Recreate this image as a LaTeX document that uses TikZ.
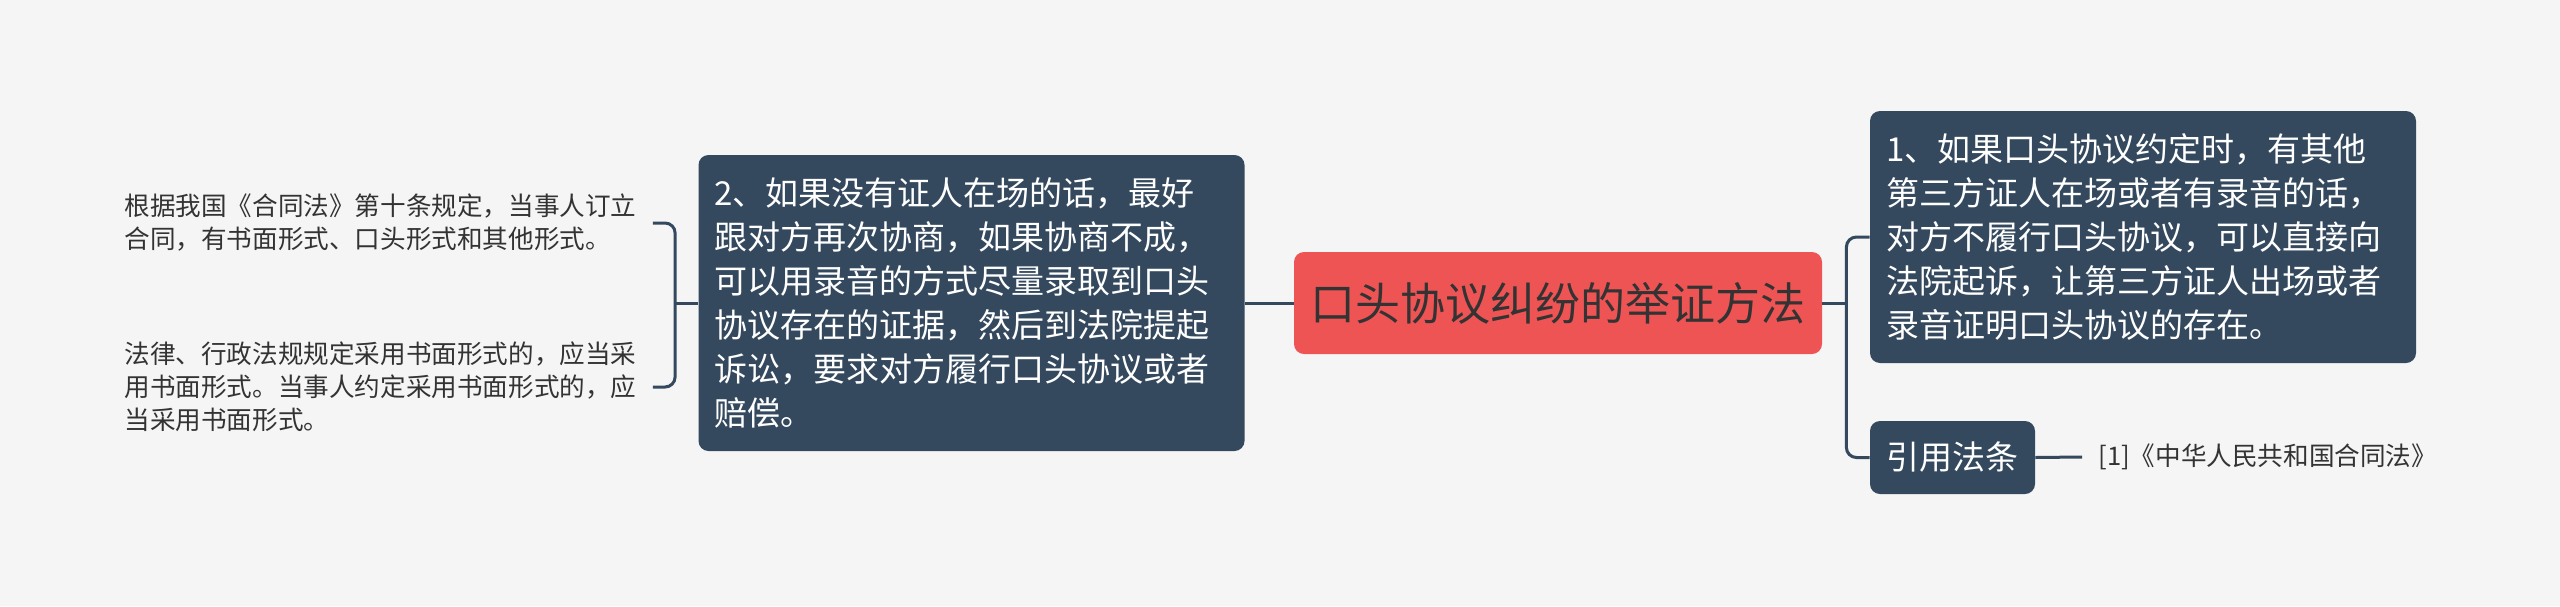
\documentclass[tikz,border=0pt]{standalone}
\usepackage{fontspec}
\setmainfont{Noto Sans CJK SC}
\definecolor{bgcol}{HTML}{F5F5F5}
\definecolor{navy}{HTML}{34495E}
\definecolor{redbox}{HTML}{EF5455}
\definecolor{ink}{HTML}{333333}
\tikzset{
	topic/.style={fill=redbox, rounded corners=5pt, text=ink, font=\fontsize{22.5pt}{28pt}\selectfont, minimum width=264pt, minimum height=51pt, inner sep=0pt},
	branch/.style={fill=navy, rounded corners=5pt, text=white, font=\fontsize{16.5pt}{22pt}\selectfont, align=left, inner xsep=8pt},
	leaf/.style={text=ink, font=\fontsize{12.8pt}{16.5pt}\selectfont, align=left, inner xsep=8pt, inner ysep=0pt},
	link/.style={draw=navy, line width=1.5pt, rounded corners=5pt}
}
\begin{document}
\begin{tikzpicture}[x=0.5pt, y=-0.5pt]
	\fill[bgcol] (0,0) rectangle (2560,606);
	\useasboundingbox (0,0) rectangle (2560,606);
	\node[topic] (T) at (1558,303) {口头协议纠纷的举证方法};
	\node[branch, text width=257pt, minimum height=148pt] (L) at (971.5,303) {2、如果没有证人在场的话，最好\\跟对方再次协商，如果协商不成，\\可以用录音的方式尽量录取到口头\\协议存在的证据，然后到法院提起\\诉讼，要求对方履行口头协议或者\\赔偿。};
	\node[branch, text width=257pt, minimum height=126pt] (B1) at (2143,237) {1、如果口头协议约定时，有其他\\第三方证人在场或者有录音的话，\\对方不履行口头协议，可以直接向\\法院起诉，让第三方证人出场或者\\录音证明口头协议的存在。};
	\node[branch, minimum width=82.5pt, minimum height=36.5pt, align=center] (R) at (1952.5,457.5) {引用法条};
	\node[leaf, anchor=west] (RT) at (2082,457) {[1]《中华人民共和国合同法》};
	\node[leaf, text width=256pt, anchor=west] (A1) at (108,223) {根据我国《合同法》第十条规定，当事人订立\\合同，有书面形式、口头形式和其他形式。};
	\node[leaf, text width=256pt, anchor=west] (A2) at (108,387) {法律、行政法规规定采用书面形式的，应当采\\用书面形式。当事人约定采用书面形式的，应\\当采用书面形式。};
	\draw[link] (T.west) -- (L.east);
	\draw[link] (T.east) -- ++(24,0) coordinate (rj);
	\draw[link] (rj) |- (B1.west);
	\draw[link] (rj) |- (R.west);
	\draw[link] (R.east) -- (RT.west);
	\draw[link] (L.west) -- ++(-23,0) coordinate (lj);
	\draw[link] (lj) |- (A1.east);
	\draw[link] (lj) |- (A2.east);
\end{tikzpicture}
\end{document}
